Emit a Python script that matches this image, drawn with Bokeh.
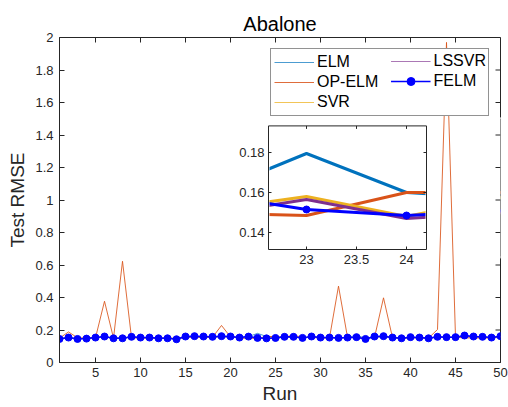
import math
from bokeh.plotting import figure
from bokeh.models import Range1d, FixedTicker, Legend, LegendItem
from bokeh.embed import file_html
from bokeh.resources import INLINE
from bokeh.core.properties import value

# ---------------- data ----------------
runs = list(range(1, 51))

elm = [0.148, 0.152, 0.147, 0.149, 0.152, 0.158, 0.150, 0.151, 0.156, 0.152,
       0.153, 0.150, 0.150, 0.146, 0.158, 0.160, 0.158, 0.157, 0.160, 0.158,
       0.153, 0.159, 0.1795, 0.160, 0.157, 0.156, 0.157, 0.152, 0.158, 0.153,
       0.153, 0.152, 0.154, 0.168, 0.148, 0.158, 0.160, 0.153, 0.150, 0.155,
       0.153, 0.150, 0.156, 0.155, 0.155, 0.163, 0.158, 0.157, 0.153, 0.160]

op_elm = [0.150, 0.188, 0.152, 0.150, 0.152, 0.377, 0.150, 0.623, 0.152, 0.150,
          0.151, 0.149, 0.150, 0.148, 0.155, 0.156, 0.154, 0.155, 0.228, 0.157,
          0.152, 0.1498, 0.1485, 0.160, 0.160, 0.155, 0.170, 0.153, 0.155, 0.150,
          0.152, 0.470, 0.155, 0.152, 0.150, 0.154, 0.398, 0.152, 0.150, 0.151,
          0.152, 0.150, 0.203, 1.970, 0.155, 0.152, 0.151, 0.150, 0.151, 0.155]

svr = [0.149, 0.153, 0.148, 0.150, 0.153, 0.157, 0.151, 0.151, 0.156, 0.153,
       0.153, 0.151, 0.151, 0.147, 0.157, 0.159, 0.157, 0.156, 0.159, 0.157,
       0.153, 0.151, 0.158, 0.148, 0.158, 0.156, 0.156, 0.153, 0.157, 0.153,
       0.153, 0.152, 0.154, 0.155, 0.149, 0.157, 0.159, 0.153, 0.151, 0.155,
       0.153, 0.151, 0.156, 0.155, 0.155, 0.162, 0.157, 0.156, 0.153, 0.159]

lssvr = [0.147, 0.152, 0.147, 0.149, 0.152, 0.156, 0.150, 0.150, 0.155, 0.152,
         0.152, 0.150, 0.150, 0.146, 0.156, 0.158, 0.156, 0.155, 0.158, 0.156,
         0.152, 0.1486, 0.1565, 0.147, 0.150, 0.155, 0.155, 0.152, 0.156, 0.152,
         0.152, 0.151, 0.153, 0.154, 0.148, 0.156, 0.158, 0.152, 0.150, 0.154,
         0.152, 0.150, 0.155, 0.154, 0.154, 0.160, 0.156, 0.155, 0.152, 0.158]

felm = [0.145, 0.1535, 0.145, 0.147, 0.1535, 0.160, 0.149, 0.149, 0.158, 0.1535,
        0.1535, 0.149, 0.149, 0.143, 0.160, 0.162, 0.160, 0.158, 0.162, 0.160,
        0.1535, 0.1594, 0.1515, 0.1485, 0.151, 0.158, 0.158, 0.1515, 0.160, 0.1535,
        0.1535, 0.1515, 0.1535, 0.156, 0.145, 0.160, 0.162, 0.1535, 0.149, 0.156,
        0.1535, 0.149, 0.158, 0.156, 0.156, 0.166, 0.160, 0.158, 0.1535, 0.162]

x_ticks = [5, 10, 15, 20, 25, 30, 35, 40, 45, 50]
x_tick_labels = ["5", "10", "15", "20", "25", "30", "35", "40", "45", "50"]
y_ticks = [0, 0.2, 0.4, 0.6, 0.8, 1, 1.2, 1.4, 1.6, 1.8, 2]
y_tick_labels = ["0", "0.2", "0.4", "0.6", "0.8", "1", "1.2", "1.4", "1.6", "1.8", "2"]

inset_first, inset_last = 22, 25          # runs whose points feed the zoomed inset
inset_x_ticks = [23, 23.5, 24]
inset_x_tick_labels = ["23", "23.5", "24"]
inset_y_ticks = [0.14, 0.16, 0.18]
inset_y_tick_labels = ["0.14", "0.16", "0.18"]

names = ["ELM", "OP-ELM", "SVR", "LSSVR", "FELM"]
colors = ["#0072BD", "#D95319", "#EDB120", "#7E2F8E", "#0000FF"]
thin_alpha = [0.7, 0.85, 0.75, 0.65, 1.0]
series = [elm, op_elm, svr, lssvr, felm]

# ---------------- layout ----------------
W, H = 508, 407
BL, BR, BT, BB = 59, 8, 37, 45
FW, FH = W - BL - BR, H - BT - BB
FONT = "Liberation Sans"
INK = "#262626"
X0, X1, Y0, Y1 = 1, 50, 0, 2

# inset view (data) and its box in frame pixels (from frame left / top)
ix0, ix1 = 22.62, 24.2
iy0, iy1 = 0.1315, 0.1933
bx0, bx1 = 209.0, 367.0
by_top, by_bot = 88.4, 212.0

sxp = (bx1 - bx0) / (ix1 - ix0)
syp = (by_bot - by_top) / (iy1 - iy0)
inset_xr = Range1d(ix0 - bx0 / sxp, ix1 + (FW - bx1) / sxp)
inset_yr = Range1d(iy0 - (FH - by_bot) / syp, iy1 + by_top / syp)

p = figure(width=W, height=H, output_backend="svg", toolbar_location=None,
           x_range=Range1d(X0, X1), y_range=Range1d(Y0, Y1),
           min_border_left=BL, min_border_right=BR, min_border_top=BT,
           min_border_bottom=BB, title="Abalone",
           x_axis_label="Run", y_axis_label="Test RMSE")
p.extra_x_ranges = {"ix": inset_xr}
p.extra_y_ranges = {"iy": inset_yr}

p.title.align = "center"
p.title.text_font = FONT
p.title.text_font_size = "20px"
p.title.text_font_style = "normal"
p.title.text_color = "black"
p.title.standoff = 6

p.grid.visible = False
p.outline_line_color = INK
p.background_fill_color = "white"
p.border_fill_color = "white"

for ax in (p.xaxis[0], p.yaxis[0]):
    ax.major_tick_in = 5
    ax.major_tick_out = 0
    ax.minor_tick_in = 0
    ax.minor_tick_out = 0
    ax.axis_line_color = INK
    ax.major_tick_line_color = INK
    ax.major_label_text_font = FONT
    ax.major_label_text_font_size = "13px"
    ax.major_label_text_color = INK
    ax.axis_label_text_font = FONT
    ax.axis_label_text_font_size = "19px"
    ax.axis_label_text_font_style = "normal"
    ax.axis_label_text_color = INK

xa = p.xaxis[0]
ya = p.yaxis[0]
xa.ticker = FixedTicker(ticks=x_ticks)
xa.major_label_overrides = dict(zip(x_ticks, x_tick_labels))
ya.ticker = FixedTicker(ticks=y_ticks)
ya.major_label_overrides = dict(zip(y_ticks, y_tick_labels))
xa.major_label_standoff = 5
xa.axis_label_standoff = 3
ya.major_label_standoff = 6
ya.axis_label_standoff = 4

# ---------------- inset ----------------
ikw = dict(x_range_name="ix", y_range_name="iy")
p.quad(left=[ix0], right=[ix1], bottom=[iy0], top=[iy1],
       fill_color="white", line_color=None, **ikw)
sel = slice(inset_first - 1, inset_last)
irun = runs[sel]
for name, col, ys in zip(names, colors, series):
    p.line(irun, ys[sel], line_color=col, line_width=3, **ikw)
p.scatter(irun, felm[sel], marker="circle", size=7, fill_color=colors[4],
          line_color=colors[4], **ikw)
# white masks where the inset lines run past the inset box
pad = 2.0
p.quad(left=[inset_xr.start - pad, ix1], right=[ix0, inset_xr.end + pad],
       bottom=[iy0 - 0.004, iy0 - 0.004], top=[iy1 + 0.004, iy1 + 0.004],
       fill_color="white", line_color="white", line_width=2, **ikw)
p.quad(left=[ix0], right=[ix1], bottom=[iy0], top=[iy1],
       fill_color=None, line_color=INK, line_width=1, **ikw)
# inset ticks (inward, all four sides)
tk = dict(length=3, length_units="screen", line_color=INK, line_width=1, **ikw)
p.ray(x=[ix0] * 3, y=inset_y_ticks, angle=0, **tk)
p.ray(x=[ix1] * 3, y=inset_y_ticks, angle=math.pi, **tk)
p.ray(x=inset_x_ticks, y=[iy0] * 3, angle=math.pi / 2, **tk)
p.ray(x=inset_x_ticks, y=[iy1] * 3, angle=-math.pi / 2, **tk)
p.text(x=[ix0] * 3, y=inset_y_ticks, text=inset_y_tick_labels, x_offset=-4,
       text_align="right", text_baseline="middle", text_font=value(FONT),
       text_font_size="13px", text_color=INK, **ikw)
p.text(x=inset_x_ticks, y=[iy0] * 3, text=inset_x_tick_labels, y_offset=5,
       text_align="center", text_baseline="top", text_font=value(FONT),
       text_font_size="13px", text_color=INK, **ikw)

# box ticks on top and right (inward), drawn after the masks
mt = dict(length=5, length_units="screen", line_color=INK, line_width=1)
p.ray(x=x_ticks, y=[Y1] * len(x_ticks), angle=-math.pi / 2, **mt)
p.ray(x=[X1] * len(y_ticks), y=y_ticks, angle=math.pi, **mt)

# ---------------- main lines ----------------
rends = {}
for name, col, ys, a in zip(names, colors, series, thin_alpha):
    lw = 1.5 if name == "FELM" else 1
    rends[name] = [p.line(runs, ys, line_color=col, line_width=lw, line_alpha=a)]
rends["FELM"].append(p.scatter(runs, felm, marker="circle", size=7,
                               fill_color=colors[4], line_color=colors[4]))

leg_common = dict(location="top_right", margin=11, padding=3, spacing=0,
                  glyph_width=40, glyph_height=20, label_height=20,
                  label_standoff=3, label_text_font=FONT,
                  label_text_font_size="16px", label_text_color="black")
legA = Legend(items=[LegendItem(label=n, renderers=rends[n]) for n in names[:3]],
              label_width=168, border_line_color=INK, border_line_width=1,
              background_fill_color="white", background_fill_alpha=1,
              **leg_common)
legB = Legend(items=[LegendItem(label=n, renderers=rends[n]) for n in names[3:]],
              label_width=40, border_line_alpha=0, background_fill_alpha=0,
              **leg_common)
p.add_layout(legA)
p.add_layout(legB)

open("out.html", "w").write(file_html(p, INLINE))
